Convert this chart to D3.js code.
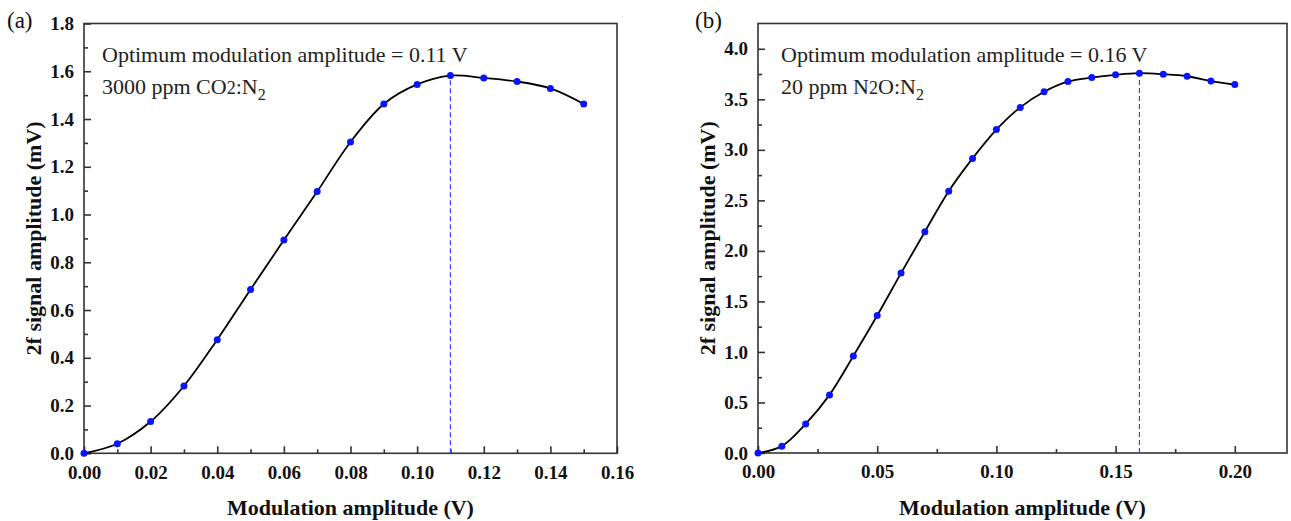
<!DOCTYPE html>
<html>
<head>
<meta charset="utf-8">
<script src="https://cdn.jsdelivr.net/npm/d3@7"></script>
<style>
  html, body { margin: 0; padding: 0; background: #fff; }
  svg { display: block; }
</style>
</head>
<body>
<svg id="chart" width="1291" height="521"></svg>
<script>
// Panel (a): 3000 ppm CO2:N2
const xA = [0, 0.01, 0.02, 0.03, 0.04, 0.05, 0.06, 0.07, 0.08, 0.09, 0.10, 0.11, 0.12, 0.13, 0.14, 0.15];
const yA = [0, 0.04, 0.133, 0.282, 0.476, 0.686, 0.893, 1.096, 1.304, 1.463, 1.545, 1.582, 1.572, 1.557, 1.528, 1.463];
const xTicksA = [0, 0.02, 0.04, 0.06, 0.08, 0.10, 0.12, 0.14, 0.16];
const yTicksA = [0, 0.2, 0.4, 0.6, 0.8, 1.0, 1.2, 1.4, 1.6, 1.8];
const optimumA = 0.11;

// Panel (b): 20 ppm N2O:N2
const xB = [0, 0.01, 0.02, 0.03, 0.04, 0.05, 0.06, 0.07, 0.08, 0.09, 0.10, 0.11, 0.12, 0.13, 0.14, 0.15, 0.16, 0.17, 0.18, 0.19, 0.20];
const yB = [0, 0.068, 0.288, 0.575, 0.96, 1.36, 1.78, 2.19, 2.59, 2.915, 3.20, 3.42, 3.575, 3.675, 3.715, 3.742, 3.758, 3.748, 3.728, 3.68, 3.646];
const xTicksB = [0, 0.05, 0.10, 0.15, 0.20];
const yTicksB = [0, 0.5, 1.0, 1.5, 2.0, 2.5, 3.0, 3.5, 4.0];
const optimumB = 0.16;

const svg = d3.select("#chart");
const serif = "'Liberation Serif', 'Times New Roman', serif";

function panel(cfg) {
  const g = svg.append("g");
  const x = d3.scaleLinear().domain(cfg.xDomain).range([cfg.left, cfg.right]);
  const y = d3.scaleLinear().domain(cfg.yDomain).range([cfg.bottom, cfg.top]);

  // minor ticks at half-steps
  const xMinor = cfg.xTicks.map(v => v + cfg.xStep / 2).filter(v => v < cfg.xDomain[1]);
  const yMinor = cfg.yTicks.map(v => v + cfg.yStep / 2).filter(v => v < cfg.yDomain[1]);

  // frame
  g.append("rect")
    .attr("x", cfg.left).attr("y", cfg.top)
    .attr("width", cfg.right - cfg.left).attr("height", cfg.bottom - cfg.top)
    .attr("fill", "none").attr("stroke", "#333").attr("stroke-width", 1.6);

  // bottom axis, ticks pointing inward
  const xg = g.append("g").attr("transform", `translate(0,${cfg.bottom})`)
    .call(d3.axisBottom(x).tickValues(cfg.xTicks).tickSize(-7).tickPadding(12)
      .tickFormat(d3.format(".2f")));
  g.append("g").attr("transform", `translate(0,${cfg.bottom})`)
    .call(d3.axisBottom(x).tickValues(xMinor).tickSize(-4).tickFormat(""))
    .call(s => s.select(".domain").remove());

  // left axis, ticks pointing inward
  const yg = g.append("g").attr("transform", `translate(${cfg.left},0)`)
    .call(d3.axisLeft(y).tickValues(cfg.yTicks).tickSize(-7).tickPadding(10)
      .tickFormat(d3.format(".1f")));
  g.append("g").attr("transform", `translate(${cfg.left},0)`)
    .call(d3.axisLeft(y).tickValues(yMinor).tickSize(-4).tickFormat(""))
    .call(s => s.select(".domain").remove());

  [xg, yg].forEach(a => {
    a.select(".domain").remove();
    a.selectAll(".tick text").attr("font-family", serif).attr("font-weight", "bold")
      .attr("font-size", 19).attr("fill", "#111");
  });
  g.selectAll(".tick line").attr("stroke", "#333").attr("stroke-width", 1.6);

  // dashed guide at the optimum
  const iOpt = cfg.xs.findIndex(v => Math.abs(v - cfg.optimum) < 1e-9);
  g.append("line")
    .attr("x1", x(cfg.optimum)).attr("x2", x(cfg.optimum))
    .attr("y1", cfg.bottom).attr("y2", y(cfg.ys[iOpt]))
    .attr("stroke", "#3a3cff").attr("stroke-width", 1.2).attr("stroke-dasharray", "5,3");

  // smooth curve
  const pts = cfg.xs.map((v, i) => [v, cfg.ys[i]]);
  g.append("path")
    .datum(pts)
    .attr("fill", "none").attr("stroke", "#000").attr("stroke-width", 1.8)
    .attr("d", d3.line().x(d => x(d[0])).y(d => y(d[1])).curve(d3.curveCatmullRom.alpha(0.5)));

  // data points
  g.append("g").selectAll("circle").data(pts).join("circle")
    .attr("cx", d => x(d[0])).attr("cy", d => y(d[1])).attr("r", 3.5)
    .attr("fill", "#0a14ff");

  // axis titles
  g.append("text")
    .attr("x", (cfg.left + cfg.right) / 2).attr("y", 515)
    .attr("text-anchor", "middle").attr("font-family", serif)
    .attr("font-weight", "bold").attr("font-size", 22).attr("fill", "#111")
    .text("Modulation amplitude (V)");
  g.append("text")
    .attr("transform", `translate(${cfg.left - 43},${(cfg.top + cfg.bottom) / 2}) rotate(-90)`)
    .attr("text-anchor", "middle").attr("font-family", serif)
    .attr("font-weight", "bold").attr("font-size", 22).attr("fill", "#111")
    .text("2f signal amplitude (mV)");

  // panel letter
  g.append("text")
    .attr("x", cfg.letterX).attr("y", 28)
    .attr("font-family", serif).attr("font-size", 23).attr("fill", "#111")
    .text(cfg.letter);

  // annotations
  const tx = cfg.left + cfg.textDx;
  g.append("text")
    .attr("x", tx).attr("y", 62)
    .attr("font-family", serif).attr("font-size", 22).attr("fill", "#222")
    .text(`Optimum modulation amplitude = ${cfg.optimum.toFixed(2)} V`);
  const t2 = g.append("text")
    .attr("x", tx).attr("y", 94)
    .attr("font-family", serif).attr("font-size", 22).attr("fill", "#222");
  t2.append("tspan").text(cfg.gasPrefix);
  t2.append("tspan").attr("font-size", 18).text(cfg.gasMid);
  t2.append("tspan").text(cfg.gasSuffix);
  t2.append("tspan").attr("font-size", 16).attr("dy", 6).text("2");

  return { x, y };
}

panel({
  left: 84, right: 617, top: 23.5, bottom: 453.3,
  xDomain: [0, 0.16], yDomain: [0, 1.8],
  xTicks: xTicksA, yTicks: yTicksA, xStep: 0.02, yStep: 0.2,
  xs: xA, ys: yA, optimum: optimumA,
  letter: "(a)", letterX: 7, textDx: 18,
  gasPrefix: "3000 ppm CO", gasMid: "2", gasSuffix: ":N"
});

panel({
  left: 758, right: 1287, top: 23.5, bottom: 453,
  xDomain: [0, 0.2219], yDomain: [0, 4.25],
  xTicks: xTicksB, yTicks: yTicksB, xStep: 0.05, yStep: 0.5,
  xs: xB, ys: yB, optimum: optimumB,
  letter: "(b)", letterX: 695, textDx: 23,
  gasPrefix: "20 ppm N", gasMid: "2", gasSuffix: "O:N"
});
</script>
</body>
</html>
